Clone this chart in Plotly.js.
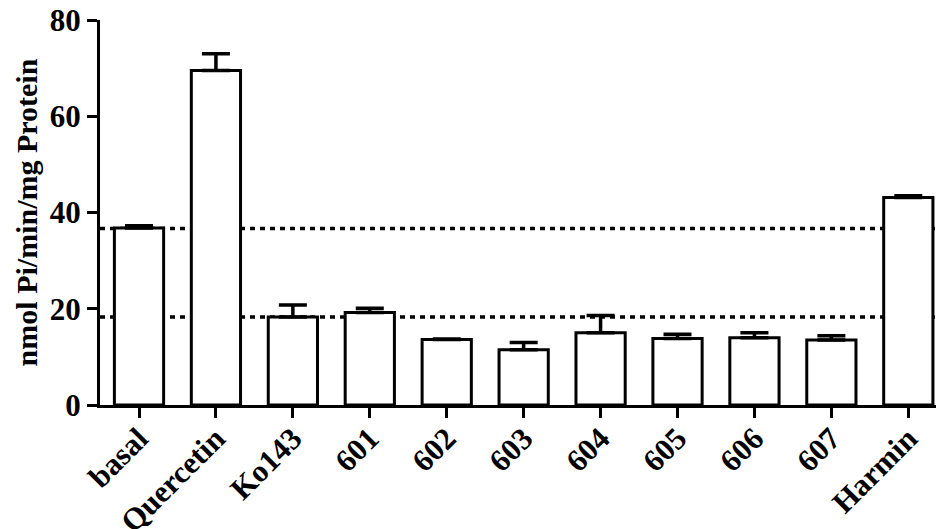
<!DOCTYPE html>
<html>
<head>
<meta charset="utf-8">
<script src="https://cdn.plot.ly/plotly-3.0.1.min.js"></script>
<style>html,body{margin:0;padding:0;background:#fff;}</style>
</head>
<body>
<div id="chart" style="width:936px;height:529px;"></div>
<script>
const categories = ["basal", "Quercetin", "Ko143", "601", "602", "603", "604", "605", "606", "607", "Harmin"];
const means = [36.8, 69.5, 18.3, 19.2, 13.6, 11.5, 15.0, 13.8, 14.0, 13.5, 43.1];
const errorsUp = [0.45, 3.5, 2.5, 0.9, 0.1, 1.5, 3.6, 0.9, 1.0, 0.9, 0.4];
const errorsDown = [0, 0, 0, 0, 0, 0, 0, 0, 0, 0, 0];
const referenceLines = [36.7, 18.3];
const yTicks = [0, 20, 40, 60, 80];
const yTitle = "nmol Pi/min/mg Protein";

const fontFamily = "'Times New Roman', 'Liberation Serif', serif";

const trace = {
  type: "bar",
  x: categories,
  y: means,
  width: 0.64,
  marker: { color: "#ffffff", line: { color: "#000000", width: 3 } },
  error_y: {
    type: "data",
    symmetric: false,
    array: errorsUp,
    arrayminus: errorsDown,
    color: "#000000",
    thickness: 3.5,
    width: 14
  },
  hoverinfo: "none"
};

const shapes = referenceLines.map(v => ({
  type: "line",
  xref: "paper", yref: "y",
  x0: 0, x1: 1, y0: v, y1: v,
  layer: "below",
  line: { color: "#000000", width: 3.5, dash: "5px,5px" }
}));

const layout = {
  width: 936, height: 529,
  margin: { l: 100, r: 0, t: 20, b: 124 },
  paper_bgcolor: "#ffffff",
  plot_bgcolor: "#ffffff",
  showlegend: false,
  font: { family: fontFamily, color: "#000000", weight: "bold" },
  xaxis: {
    type: "category",
    range: [-0.507, 10.36],
    showgrid: false,
    zeroline: false,
    showline: true,
    linecolor: "#000000",
    linewidth: 3,
    ticks: "outside",
    ticklen: 10,
    tickwidth: 3,
    tickcolor: "#000000",
    tickangle: -45,
    ticklabelstandoff: -10,
    automargin: false,
    tickfont: { family: fontFamily, size: 31, color: "#000000", weight: "bold" }
  },
  yaxis: {
    range: [0, 80],
    tickvals: yTicks,
    ticktext: yTicks.map(String),
    showgrid: false,
    zeroline: false,
    showline: true,
    linecolor: "#000000",
    linewidth: 3,
    ticks: "outside",
    ticklen: 10,
    tickwidth: 3,
    tickcolor: "#000000",
    automargin: false,
    tickfont: { family: fontFamily, size: 31, color: "#000000", weight: "bold" },
    title: {
      text: yTitle,
      font: { family: fontFamily, size: 30, color: "#000000", weight: "bold" },
      standoff: 4
    }
  },
  shapes: shapes
};

Plotly.newPlot("chart", [trace], layout, { staticPlot: true, displayModeBar: false });
</script>
</body>
</html>
